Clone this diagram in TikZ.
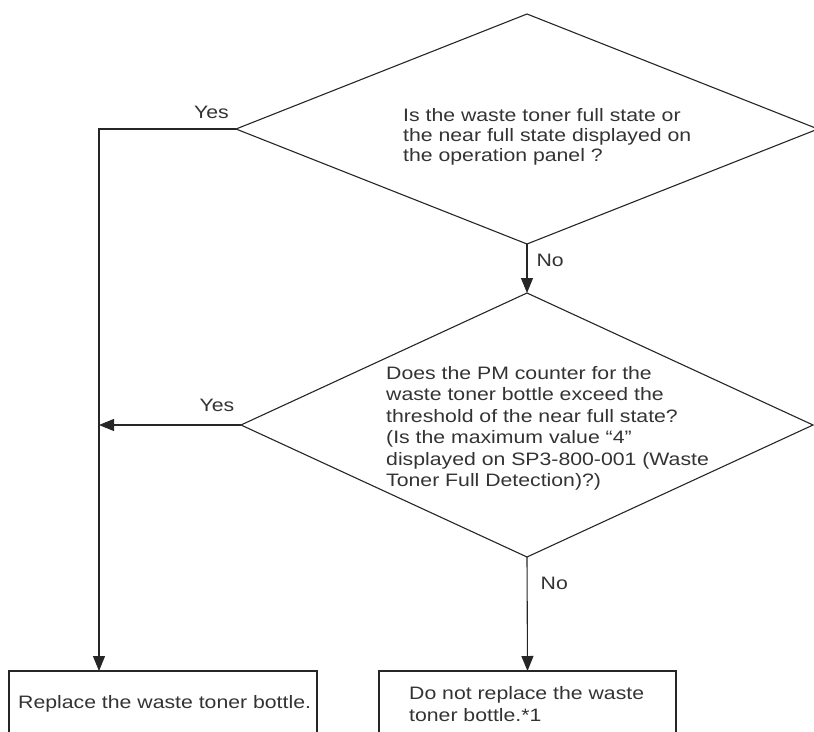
\documentclass[tikz,border=0pt]{standalone}
\usepackage{fontspec}
\setmainfont{Liberation Sans}[FakeStretch=1.18]
\usetikzlibrary{shapes.geometric,arrows.meta}
\begin{document}
\begin{tikzpicture}[x=1pt,y=-1pt,
  line/.style={draw=black!85, line width=1.1pt},
  flow/.style={line, -{Triangle[length=15pt,width=12pt]}},
  decision/.style={diamond, draw=black!85, line width=1.1pt, inner sep=0pt, outer sep=0pt},
  outcome/.style={rectangle, draw=black!85, line width=1.1pt, inner sep=0pt, outer sep=0pt},
  txt/.style={inner sep=0pt, align=left, text=black!80, anchor=north west},
  tag/.style={inner sep=0pt, text=black!80, font={\fontsize{18}{20}\selectfont}},
]
\clip (0,0) rectangle (814,731);

% decisions
\node[decision, minimum width=582pt, minimum height=230pt] (q1) at (527,129) {};
\node[decision, minimum width=572pt, minimum height=264pt] (q2) at (527,425) {};

% outcomes (running off the lower edge)
\node[outcome, minimum width=308pt, minimum height=80pt] (r1) at (163,711) {};
\node[outcome, minimum width=297pt, minimum height=80pt] (r2) at (527.5,711) {};

% texts
\node[txt, font={\fontsize{18}{20}\selectfont}] (q1txt) at (403,108)
  {Is the waste toner full state or\\the near full state displayed on\\the operation panel ?};
\node[txt, font={\fontsize{18}{21.5}\selectfont}] (q2txt) at (386,366)
  {Does the PM counter for the\\waste toner bottle exceed the\\threshold of the near full state?\\(Is the maximum value “4”\\displayed on SP3-800-001 (Waste\\Toner Full Detection)?)};
\node[txt, font={\fontsize{18}{22}\selectfont}] (r1txt) at (18,695)
  {Replace the waste toner bottle.};
\node[txt, font={\fontsize{18}{22}\selectfont}] (r2txt) at (409,686)
  {Do not replace the waste\\toner bottle.*1};

% connectors
\coordinate (j1) at (99,129);
\draw[flow] (q1.west) -- node[tag, pos=0.18, anchor=base, yshift=10.5pt] (y1) {Yes} (j1) -- (j1 |- r1.north);
\draw[flow] (q1.south) -- node[tag, pos=0.46, anchor=base west, xshift=9pt] (n1) {No} (q2.north);
\draw[flow] (q2.west) -- node[tag, pos=0.17, anchor=base, yshift=13.5pt] (y2) {Yes} (q2.west -| j1);
\draw[flow] (q2.south) -- node[tag, pos=0.285, anchor=base west, xshift=13pt] (n2) {No} (r2.north);
\end{tikzpicture}
\end{document}
